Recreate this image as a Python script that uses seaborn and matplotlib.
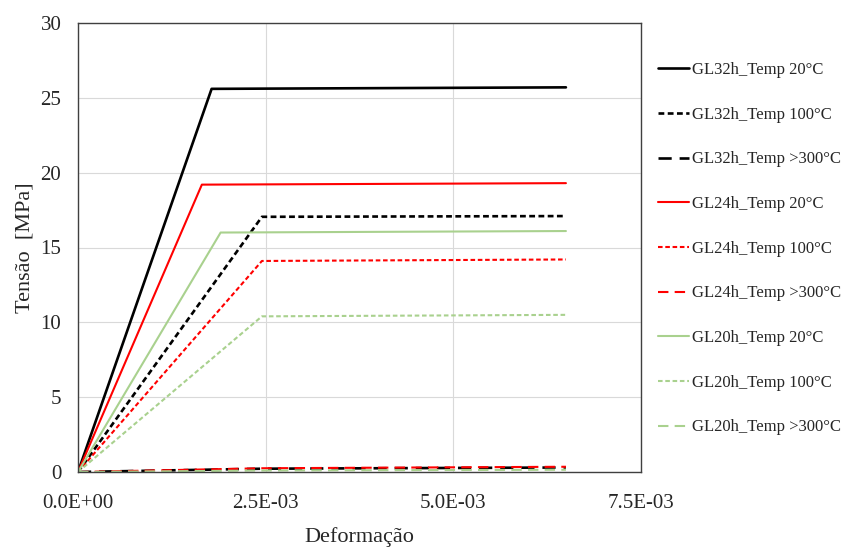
import numpy as np
import pandas as pd
import seaborn as sns
import matplotlib.pyplot as plt
from matplotlib.ticker import FuncFormatter

# strain at origin, end of elastic branch, end of test
strain_gl32 = [[0.0, 0.00178, 0.0065], [0.0, 0.00245, 0.0065], [0.0, 0.00245, 0.0065]]
strain_gl24 = [[0.0, 0.00165, 0.0065], [0.0, 0.00245, 0.0065], [0.0, 0.00245, 0.0065]]
strain_gl20 = [[0.0, 0.00190, 0.0065], [0.0, 0.00245, 0.0065], [0.0, 0.00245, 0.0065]]

stress_gl32 = [[0.0, 25.6, 25.7], [0.0, 17.05, 17.1], [0.0, 0.22, 0.30]]
stress_gl24 = [[0.0, 19.2, 19.3], [0.0, 14.1, 14.2], [0.0, 0.25, 0.35]]
stress_gl20 = [[0.0, 16.0, 16.1], [0.0, 10.4, 10.5], [0.0, 0.10, 0.15]]

grades = ['GL32h', 'GL24h', 'GL20h']
temps = ['20°C', '100°C', '>300°C']

colors = {'GL32h': '#000000', 'GL24h': '#ff0000', 'GL20h': '#a9d18e'}
widths = {'GL32h': 1.9, 'GL24h': 1.5, 'GL20h': 1.5}
dashes = {'20°C': '-', '100°C': (0, (2.2, 1.3)), '>300°C': (0, (5, 3))}

rows = []
for g, xs, ys in zip(grades, [strain_gl32, strain_gl24, strain_gl20],
                     [stress_gl32, stress_gl24, stress_gl20]):
    for t, x, y in zip(temps, xs, ys):
        for a, b in zip(x, y):
            rows.append({'grade': g, 'temp': t, 'strain': a, 'stress': b})
df = pd.DataFrame(rows)

sns.set_style('white')
plt.rcParams['font.family'] = ['Liberation Serif', 'DejaVu Serif']

fig = plt.figure(figsize=(8.46, 5.47), dpi=100)
ax = fig.add_axes([78 / 846, 1 - 472 / 547, (641 - 78) / 846, (472 - 23) / 547])

for g in grades:
    for t in temps:
        d = df[(df.grade == g) & (df.temp == t)]
        sns.lineplot(data=d, x='strain', y='stress', ax=ax, color=colors[g],
                     linewidth=widths[g], linestyle=dashes[t],
                     label=g + '_Temp ' + t, sort=False)

ax.set_xlim(0, 0.0075)
ax.set_ylim(0, 30)
ax.set_xticks([0, 0.0025, 0.005, 0.0075])
ax.set_yticks(range(0, 31, 5))
ax.xaxis.set_major_formatter(FuncFormatter(lambda v, p: f'{v:.1E}'))
ax.grid(True, color='#d9d9d9', linewidth=0.8)
for s in ax.spines.values():
    s.set_color('#404040')
    s.set_linewidth(1.0)
ax.tick_params(axis='y', labelsize=15, length=0, pad=12)
ax.tick_params(axis='x', labelsize=15, length=0, pad=16)
ax.set_xlabel('Deformação', fontsize=16, labelpad=10)
ax.set_ylabel('Tensão  [MPa]', fontsize=16, labelpad=4)

ax.legend(loc='upper left', bbox_to_anchor=(1.0, 0.95), frameon=False,
          fontsize=12, handlelength=1.9, handletextpad=0.15,
          labelspacing=1.72, borderaxespad=0.6)

fig.savefig('out.png', dpi=100)
